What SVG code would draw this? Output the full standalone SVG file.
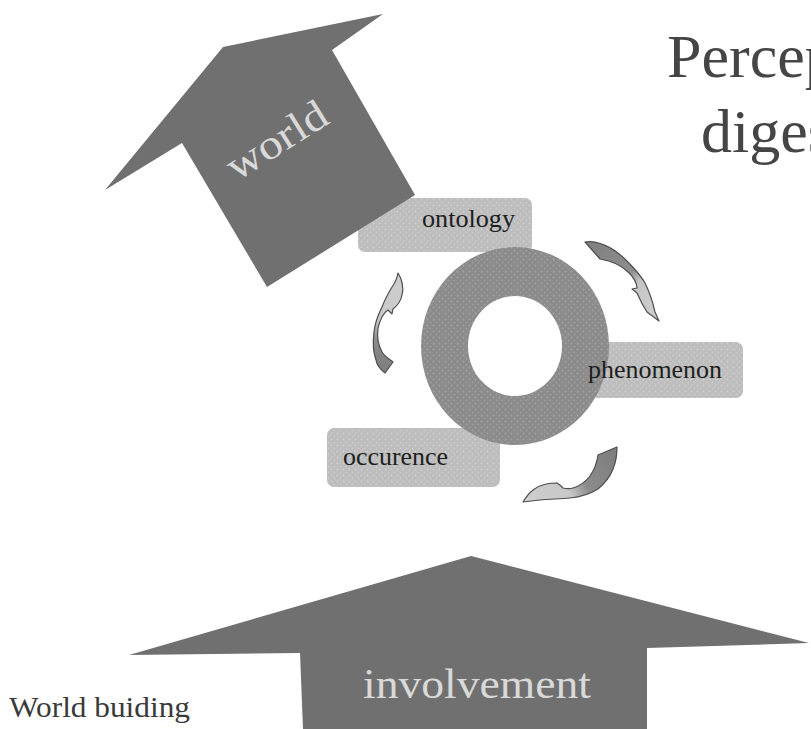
<svg xmlns="http://www.w3.org/2000/svg" width="811" height="729" viewBox="0 0 811 729">
  <defs>
    <pattern id="boxDots" width="6" height="6" patternUnits="userSpaceOnUse">
      <rect width="6" height="6" fill="#bdbdbd"/>
      <circle cx="1.5" cy="1.5" r="0.9" fill="#d2d2d2"/>
      <circle cx="4.5" cy="4.5" r="0.9" fill="#cccccc"/>
    </pattern>
    <pattern id="ringDots" width="6" height="6" patternUnits="userSpaceOnUse">
      <rect width="6" height="6" fill="#8b8b8b"/>
      <circle cx="1.5" cy="1.5" r="1" fill="#a4a4a4"/>
      <circle cx="4.5" cy="4.5" r="1" fill="#9d9d9d"/>
    </pattern>
    <linearGradient id="g1" gradientUnits="userSpaceOnUse" x1="588" y1="245" x2="656" y2="318">
      <stop offset="0" stop-color="#808080"/>
      <stop offset="0.5" stop-color="#8e8e8e"/>
      <stop offset="0.62" stop-color="#c6c6c6"/>
      <stop offset="1" stop-color="#cdcdcd"/>
    </linearGradient>
    <linearGradient id="g2" gradientUnits="userSpaceOnUse" x1="385" y1="370" x2="398" y2="275">
      <stop offset="0" stop-color="#7e7e7e"/>
      <stop offset="0.3" stop-color="#8c8c8c"/>
      <stop offset="0.5" stop-color="#c9c9c9"/>
      <stop offset="1" stop-color="#cdcdcd"/>
    </linearGradient>
    <linearGradient id="g3" gradientUnits="userSpaceOnUse" x1="612" y1="450" x2="525" y2="500">
      <stop offset="0" stop-color="#7e7e7e"/>
      <stop offset="0.4" stop-color="#8c8c8c"/>
      <stop offset="0.58" stop-color="#c8c8c8"/>
      <stop offset="1" stop-color="#cecece"/>
    </linearGradient>
  </defs>
  <style>
    .box { fill: url(#boxDots); }
    .lbl { font-family: "Liberation Serif", "Times New Roman", serif; font-size: 26px; fill: #1e1e1e; }
    .big { fill: #707070; }
    .onbig { font-family: "Liberation Serif", "Times New Roman", serif; fill: #d9d9d9; }
    .title { font-family: "Liberation Serif", "Times New Roman", serif; font-size: 62px; fill: #454545; }
    .cap { font-family: "Liberation Serif", "Times New Roman", serif; font-size: 29px; fill: #3a3a3a; }
    .carrow { stroke: #4d4d4d; stroke-width: 1.2; stroke-linejoin: round; }
  </style>
  <rect width="811" height="729" fill="#ffffff"/>

  <g id="title">
    <text class="title" x="667" y="77">Percep</text>
    <text class="title" x="701" y="152">diges</text>
  </g>

  <g id="ontology">
    <rect class="box" x="358" y="198" width="174" height="54" rx="7"/>
  </g>
  <g id="phenomenon">
    <rect class="box" x="588" y="342" width="155" height="56" rx="7"/>
  </g>
  <g id="occurence">
    <rect class="box" x="327" y="428" width="173" height="59" rx="7"/>
  </g>

  <g id="cycle">
    <path fill="url(#ringDots)" fill-rule="evenodd" d="M421,346 A94,99 0 1,0 609,346 A94,99 0 1,0 421,346 Z M468,346 A47,50 0 1,1 562,346 A47,50 0 1,1 468,346 Z"/>
  </g>

  <g id="labels">
    <text class="lbl" x="422" y="227" textLength="93" lengthAdjust="spacingAndGlyphs">ontology</text>
    <text class="lbl" x="588" y="378" textLength="134" lengthAdjust="spacingAndGlyphs">phenomenon</text>
    <text class="lbl" x="343" y="465" textLength="105" lengthAdjust="spacingAndGlyphs">occurence</text>
  </g>

  <g id="world">
    <polygon class="big" points="267,287 182,143 105,190 223,47 383,14 332,50 415,195"/>
    <text class="onbig" font-size="42" text-anchor="middle" transform="translate(284,152) rotate(-32)" textLength="112" lengthAdjust="spacingAndGlyphs">world</text>
  </g>

  <g id="involvement">
    <polygon class="big" points="471,556 809,643 647,648 647,729 303,729 300,653 129,655"/>
    <text class="onbig" font-size="42" x="477" y="698" text-anchor="middle" textLength="228" lengthAdjust="spacingAndGlyphs">involvement</text>
  </g>

  <g id="caption">
    <text class="cap" x="9" y="717" textLength="181" lengthAdjust="spacingAndGlyphs">World buiding</text>
  </g>

  <g id="connectors">
    <path class="carrow" fill="url(#g1)" d="M585,242 C594,240 608,245 618,253 C626,259 639,273 645,283 C650,293 653,303 655,312 L659,321 L647,312 C643,306 640,300 637,293 L632,289 L637,288 C637,284 634,277 628,272 C622,266 612,261 600,259 Z"/>
    <path class="carrow" fill="url(#g2)" d="M398,273 C402,279 404,288 402,295 C401,300 397,306 393,309 L392,314 L388,310 C383,313 380,320 378,328 C377,336 378,345 382,352 C384,356 389,359 393,362 L385,373 C381,370 377,366 376,360 C373,352 373,340 374,332 C375,322 379,313 382,307 C385,299 389,292 392,287 C395,283 397,278 398,273 Z"/>
    <path class="carrow" fill="url(#g3)" d="M617,447 C617,455 616,462 613,469 C610,477 604,484 598,489 C590,494 580,497 570,498 C560,499 550,499 540,500 L523,502 C526,497 529,493 533,490 C537,487 541,485 546,484 C550,483 554,483 557,483 L560,485 L563,488 C567,489 570,489 573,488 C580,486 586,481 590,476 C594,470 597,463 598,455 Z"/>
  </g>
</svg>
